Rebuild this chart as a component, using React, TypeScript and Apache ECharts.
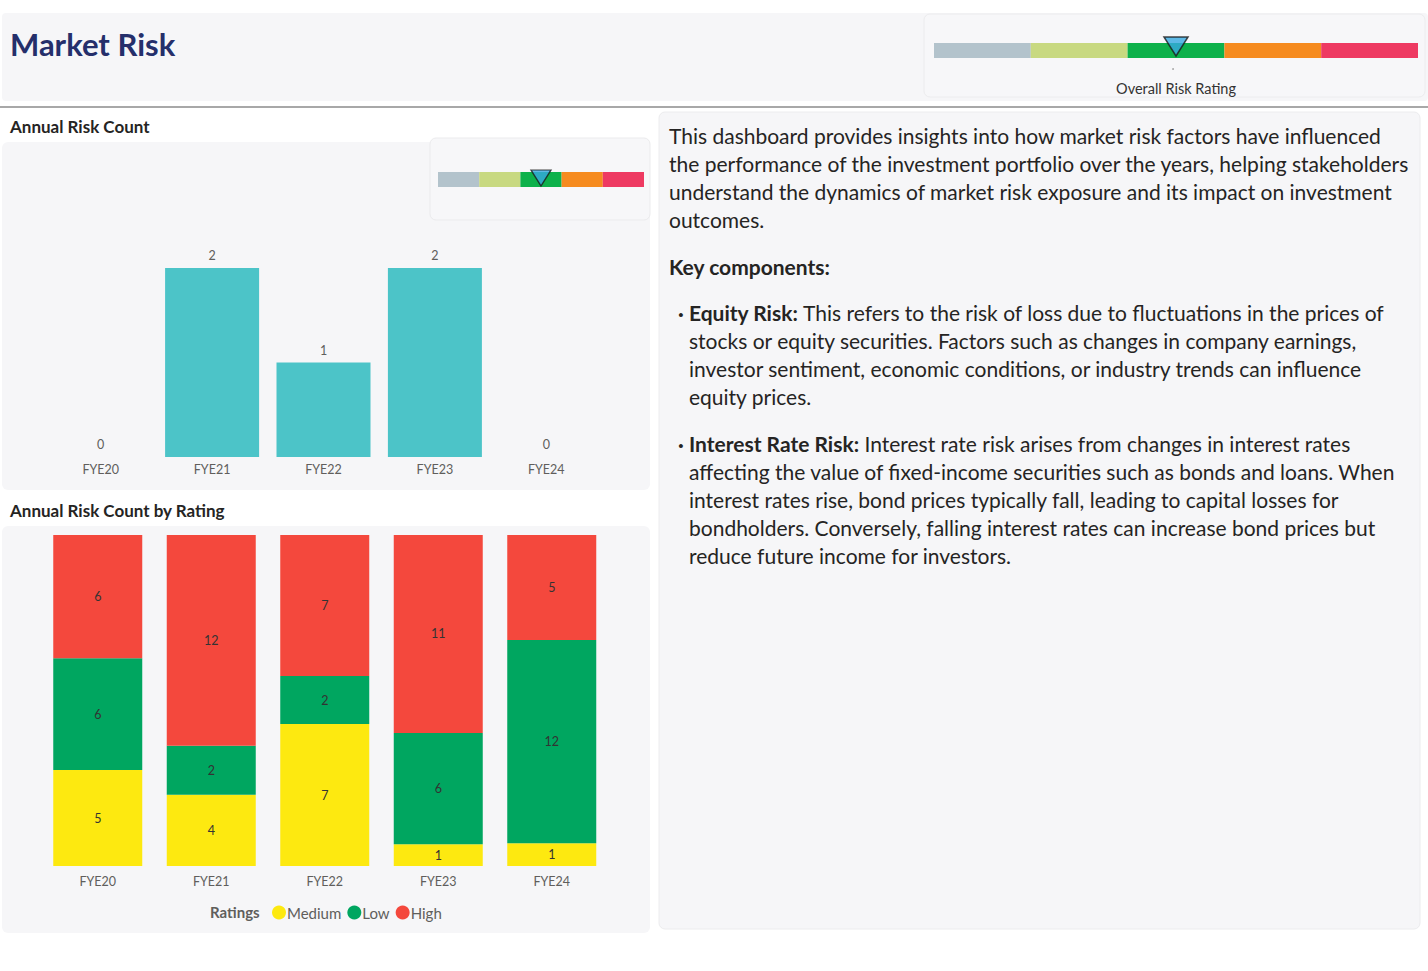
import React, { useEffect, useRef } from "react";
import * as echarts from "echarts";

const years = ["FYE20", "FYE21", "FYE22", "FYE23", "FYE24"];
const riskCount = [0, 2, 1, 2, 0];
// counts shown as labels in the 100% stacked chart
const mediumCounts = [5, 4, 7, 1, 1];
const lowCounts = [6, 2, 2, 6, 12];
const highCounts = [6, 12, 7, 11, 5];
// share of each bar's height
const mediumShare = [0.29, 0.215, 0.429, 0.066, 0.069];
const lowShare = [0.338, 0.148, 0.145, 0.336, 0.614];
const highShare = [0.372, 0.637, 0.426, 0.598, 0.317];
const ratingBands = ["Very Low", "Low", "Moderate", "High", "Very High"];
const ratingBandColors = ["#b3c3cc", "#c8d981", "#0db14b", "#f68b1f", "#ee3a62"];
const overallRating = 2.5;
const ratingNames = ["Medium", "Low", "High"];
const ratingColors = ["#fde910", "#00a660", "#f4483d"];

const introLines = [
  "This dashboard provides insights into how market risk factors have influenced",
  "the performance of the investment portfolio over the years, helping stakeholders",
  "understand the dynamics of market risk exposure and its impact on investment",
  "outcomes.",
];
const equityLines = [
  "{b|Equity Risk:} This refers to the risk of loss due to fluctuations in the prices of",
  "stocks or equity securities. Factors such as changes in company earnings,",
  "investor sentiment, economic conditions, or industry trends can influence",
  "equity prices.",
];
const interestLines = [
  "{b|Interest Rate Risk:} Interest rate risk arises from changes in interest rates",
  "affecting the value of fixed-income securities such as bonds and loans. When",
  "interest rates rise, bond prices typically fall, leading to capital losses for",
  "bondholders. Conversely, falling interest rates can increase bond prices but",
  "reduce future income for investors.",
];

const FONT = "Lato, 'Open Sans', sans-serif";
const TXT = "#252423";
const PANEL = "#f6f6f8";

export default function App() {
  const ref = useRef<HTMLDivElement>(null);
  useEffect(() => {
    if (!ref.current) return;
    const chart = echarts.init(ref.current, null, { renderer: "svg" });
    const stackCounts = [mediumCounts, lowCounts, highCounts];
    const stackShares = [mediumShare, lowShare, highShare];

    const paraFont = 21;
    const rich = { b: { fontWeight: "bold", fontFamily: FONT, fontSize: paraFont, fill: TXT } };
    const textLine = (text: string, x: number, y: number, extra: any = {}) => ({
      type: "text",
      x,
      y,
      style: { text, fontFamily: FONT, fontSize: paraFont, fill: TXT, verticalAlign: "middle", rich, ...extra },
    });

    const graphic: any[] = [
      // header
      { type: "rect", shape: { x: 2, y: 13, width: 1426, height: 88, r: 4 }, style: { fill: PANEL } },
      { type: "rect", shape: { x: 924, y: 14, width: 501, height: 83, r: 6 }, style: { fill: "#f7f7f9", stroke: "#ececee", lineWidth: 1 } },
      { type: "rect", shape: { x: 0, y: 106, width: 1428, height: 2 }, style: { fill: "#a8a8a8" } },
      { type: "text", x: 10, y: 44, style: { text: "Market Risk", fontFamily: FONT, fontSize: 31, fontWeight: "bold", fill: "#252f6b", verticalAlign: "middle" } },
      { type: "circle", shape: { cx: 1173, cy: 69, r: 0.8 }, style: { fill: "#999" } },
      { type: "text", x: 1176, y: 88, style: { text: "Overall Risk Rating", fontFamily: FONT, fontSize: 14.5, fill: "#333", align: "center", verticalAlign: "middle" } },
      // left panels
      { type: "text", x: 10, y: 126, style: { text: "Annual Risk Count", fontFamily: FONT, fontSize: 17, fontWeight: "bold", fill: TXT, verticalAlign: "middle" } },
      { type: "rect", shape: { x: 2, y: 142, width: 648, height: 348, r: 6 }, style: { fill: PANEL } },
      { type: "rect", shape: { x: 430, y: 138, width: 220, height: 82, r: 6 }, style: { fill: "#f7f7f9", stroke: "#ebebed", lineWidth: 1 } },
      { type: "text", x: 10, y: 510, style: { text: "Annual Risk Count by Rating", fontFamily: FONT, fontSize: 17, fontWeight: "bold", fill: TXT, verticalAlign: "middle" } },
      { type: "rect", shape: { x: 2, y: 526, width: 648, height: 407, r: 6 }, style: { fill: PANEL } },
      { type: "text", x: 210, y: 912, style: { text: "Ratings", fontFamily: FONT, fontSize: 15, fontWeight: "bold", fill: "#605e5c", verticalAlign: "middle" } },
      // right panel
      { type: "rect", shape: { x: 659, y: 112, width: 761, height: 817, r: 6 }, style: { fill: PANEL, stroke: "#ececee", lineWidth: 1 } },
    ];
    introLines.forEach((t, i) => graphic.push(textLine(t, 669, 135 + i * 28)));
    graphic.push(textLine("Key components:", 669, 266, { fontWeight: "bold" }));
    graphic.push(textLine("·", 678, 312, { fontWeight: "bold" }));
    equityLines.forEach((t, i) => graphic.push(textLine(t, 689, 312 + i * 28)));
    graphic.push(textLine("·", 678, 443, { fontWeight: "bold" }));
    interestLines.forEach((t, i) => graphic.push(textLine(t, 689, 443 + i * 28)));

    const bandSeries = (axis: number, width: number, stack: string) =>
      ratingBands.map((name, i) => ({
        type: "bar",
        name: stack + name,
        xAxisIndex: axis,
        yAxisIndex: axis,
        stack,
        barWidth: width,
        silent: true,
        itemStyle: { color: ratingBandColors[i] },
        data: [1],
      }));

    const option: any = {
      animation: false,
      textStyle: { fontFamily: FONT },
      graphic,
      grid: [
        { left: 45, top: 268, width: 557, height: 189 },
        { left: 41, top: 535, width: 567.5, height: 331 },
        { left: 934, top: 43, width: 484, height: 15 },
        { left: 438, top: 172, width: 206, height: 15 },
      ],
      xAxis: [
        { type: "category", gridIndex: 0, data: years, axisLine: { show: false }, axisTick: { show: false }, axisLabel: { color: "#605e5c", fontSize: 12.5, margin: 6 } },
        { type: "category", gridIndex: 1, data: years, axisLine: { show: false }, axisTick: { show: false }, axisLabel: { color: "#605e5c", fontSize: 12.5, margin: 9 } },
        { type: "value", gridIndex: 2, min: 0, max: ratingBands.length, show: false },
        { type: "value", gridIndex: 3, min: 0, max: ratingBands.length, show: false },
      ],
      yAxis: [
        { type: "value", gridIndex: 0, min: 0, max: 2, show: false },
        { type: "value", gridIndex: 1, min: 0, max: 1, show: false },
        { type: "category", gridIndex: 2, data: ["rating"], show: false },
        { type: "category", gridIndex: 3, data: ["rating"], show: false },
      ],
      legend: {
        data: ratingNames,
        left: 267,
        top: 900,
        icon: "circle",
        itemWidth: 14,
        itemHeight: 14,
        itemGap: 6,
        textStyle: { fontSize: 15, color: "#605e5c", fontFamily: FONT, padding: [0, 0, 0, -4] },
      },
      series: [
        {
          type: "bar",
          name: "Risk Count",
          xAxisIndex: 0,
          yAxisIndex: 0,
          barWidth: 94,
          itemStyle: { color: "#4cc4c8" },
          label: { show: true, position: "top", distance: 6, color: "#605e5c", fontSize: 12.5 },
          data: riskCount,
        },
        ...ratingNames.map((name, si) => ({
          type: "bar",
          name,
          xAxisIndex: 1,
          yAxisIndex: 1,
          stack: "ratings",
          barWidth: 89,
          itemStyle: { color: ratingColors[si] },
          label: {
            show: true,
            position: "inside",
            color: "#333",
            fontSize: 12.5,
            formatter: (p: any) => String(p.data.count),
          },
          data: stackShares[si].map((v, i) => ({ value: v, count: stackCounts[si][i] })),
        })),
        ...bandSeries(2, 15, "big"),
        ...bandSeries(3, 15, "small"),
        {
          type: "scatter",
          xAxisIndex: 2,
          yAxisIndex: 2,
          symbol: "triangle",
          symbolRotate: 180,
          symbolSize: [24, 19],
          symbolOffset: [0, -4],
          z: 5,
          silent: true,
          itemStyle: { color: "#36a9e1", borderColor: "#1a1a1a", borderWidth: 1.5 },
          data: [[overallRating, "rating"]],
        },
        {
          type: "scatter",
          xAxisIndex: 3,
          yAxisIndex: 3,
          symbol: "triangle",
          symbolRotate: 180,
          symbolSize: [20, 16],
          symbolOffset: [0, -1.5],
          z: 5,
          silent: true,
          itemStyle: { color: "#36a9e1", borderColor: "#1a1a1a", borderWidth: 1.3 },
          data: [[overallRating, "rating"]],
        },
      ],
    };
    chart.setOption(option);
    return () => chart.dispose();
  }, []);

  return (
    <div
      ref={ref}
      style={{ position: "absolute", left: 0, top: 0, width: 1428, height: 971, background: "#ffffff" }}
    />
  );
}
